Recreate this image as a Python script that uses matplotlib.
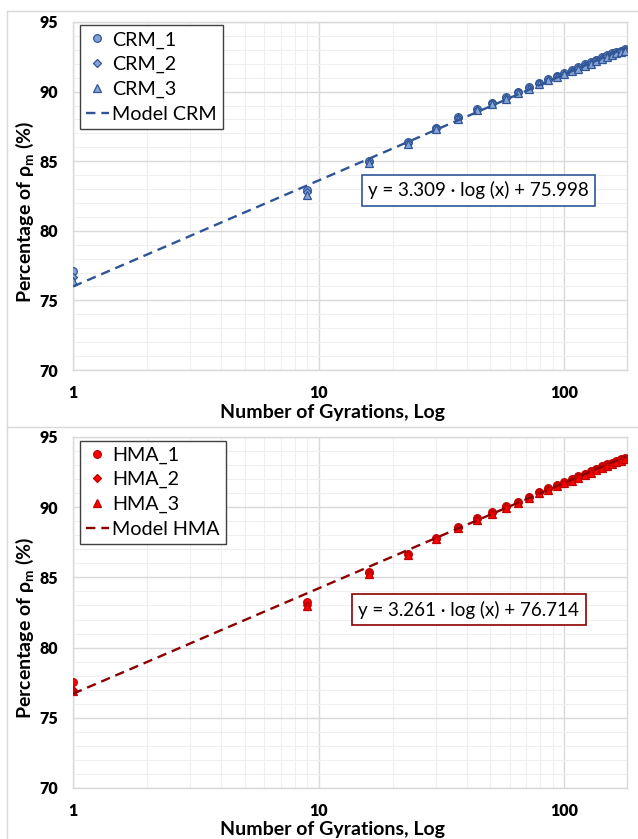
import numpy as np
import matplotlib
matplotlib.use('Agg')
import matplotlib.pyplot as plt
from matplotlib.ticker import FixedLocator, MultipleLocator
from matplotlib.lines import Line2D

plt.rcParams['font.family'] = ['Lato', 'DejaVu Sans']
plt.rcParams['mathtext.default'] = 'regular'

# Number of gyrations at which densities were recorded
gyrations = [1, 9, 16, 23, 30, 37, 44, 51, 58, 65, 72, 79, 86, 93, 100,
             107, 114, 121, 128, 135, 142, 149, 156, 163, 170, 177]

# Percentage of maximum density, CRM specimens
crm_1 = [77.1, 82.9, 85.0, 86.35, 87.4, 88.15, 88.75, 89.2, 89.6, 90.0, 90.3, 90.65, 90.9,
         91.15, 91.35, 91.55, 91.75, 91.95, 92.1, 92.3, 92.45, 92.6, 92.75, 92.85, 92.95, 93.05]
crm_2 = [76.7, 82.8, 84.95, 86.3, 87.35, 88.1, 88.7, 89.15, 89.55, 89.95, 90.25, 90.6, 90.85,
         91.1, 91.3, 91.5, 91.7, 91.9, 92.05, 92.25, 92.4, 92.55, 92.7, 92.8, 92.9, 93.0]
crm_3 = [76.4, 82.6, 84.9, 86.25, 87.3, 88.05, 88.65, 89.1, 89.5, 89.9, 90.2, 90.55, 90.8,
         91.05, 91.25, 91.45, 91.65, 91.85, 92.0, 92.2, 92.35, 92.5, 92.65, 92.75, 92.85, 92.95]

# Percentage of maximum density, HMA specimens
hma_1 = [77.55, 83.25, 85.4, 86.7, 87.8, 88.6, 89.2, 89.65, 90.05, 90.4, 90.75, 91.1, 91.35,
         91.6, 91.8, 92.0, 92.2, 92.4, 92.55, 92.75, 92.9, 93.05, 93.15, 93.3, 93.4, 93.5]
hma_2 = [77.0, 83.05, 85.3, 86.65, 87.75, 88.55, 89.15, 89.6, 90.0, 90.35, 90.7, 91.05, 91.3,
         91.55, 91.75, 91.95, 92.15, 92.35, 92.5, 92.7, 92.85, 93.0, 93.1, 93.25, 93.35, 93.45]
hma_3 = [76.9, 82.95, 85.25, 86.6, 87.7, 88.5, 89.1, 89.55, 89.95, 90.3, 90.65, 91.0, 91.25,
         91.5, 91.7, 91.9, 92.1, 92.3, 92.45, 92.65, 92.8, 92.95, 93.05, 93.2, 93.3, 93.4]

# Fitted model coefficients: y = a * log(x) + b
crm_model = (3.309, 75.998)
hma_model = (3.261, 76.714)

x_ticks = [1, 10, 100]
y_ticks = [70, 75, 80, 85, 90, 95]

W, H = 638, 839


def make_axes(fig, top_px, bottom_px):
    left, right = 73, 627
    return fig.add_axes([left / W, 1 - bottom_px / H, (right - left) / W, (bottom_px - top_px) / H])


def style_axes(ax, xlab_y, ylab_y):
    ax.set_xscale('log')
    ax.set_xlim(1, 180)
    ax.set_ylim(70, 95)
    ax.tick_params(which='both', length=0)
    ax.tick_params(axis='both', pad=11)
    ax.set_yticks(y_ticks)
    ax.yaxis.set_minor_locator(MultipleLocator(1))
    ax.set_xticks(x_ticks)
    ax.xaxis.set_minor_locator(FixedLocator([m * d for d in (1, 10, 100) for m in range(2, 10)]))
    ax.set_yticklabels([str(v) for v in y_ticks])
    ax.set_xticklabels([str(v) for v in x_ticks])
    ax.grid(True, which='major', color='#D9D9D9', linewidth=1.0)
    ax.grid(True, which='minor', color='#EFEFEF', linewidth=0.8)
    ax.set_axisbelow(True)
    for s in ax.spines.values():
        s.set_color('#D9D9D9')
        s.set_linewidth(1.0)
    ax.set_xlabel('Number of Gyrations, Log', fontsize=14, fontweight='bold')
    ax.set_ylabel('Percentage of ρ$_{m}$ (%)', fontsize=14, fontweight='bold')
    ax.xaxis.set_label_coords(0.469, xlab_y)
    ax.yaxis.set_label_coords(-0.067, ylab_y)


def bold_ticks(ax):
    for lab in ax.get_xticklabels(which='major') + ax.get_yticklabels(which='major'):
        lab.set_fontsize(11.5)
        lab.set_fontweight('heavy')


def draw_panel(ax, series, names, model, model_name, fill, edge, line_col, box_xy):
    markers = ['o', 'D', '^']
    sizes = [5.5, 4.0, 5.5]
    x = np.array(gyrations)
    for vals, name, m, ms in zip(series, names, markers, sizes):
        ax.plot(x, vals, linestyle='none', marker=m, markersize=ms, markerfacecolor=fill,
                markeredgecolor=edge, markeredgewidth=0.9, label=name, zorder=3)
    a, b = model
    ax.plot(x, a * np.log(x) + b, color=line_col, linewidth=1.7, dashes=(4, 2.5),
            label=model_name, zorder=4)
    leg = ax.legend(loc='upper left', bbox_to_anchor=(0.012, 0.99), fontsize=14.2,
                    fancybox=False, framealpha=1, edgecolor='#404040', borderpad=0.3,
                    labelspacing=0.38, handlelength=1.2, handletextpad=0.15, borderaxespad=0)
    leg.get_frame().set_linewidth(1.0)
    ax.text(box_xy[0], box_xy[1], 'y = {:.3f} · log (x) + {:.3f}'.format(a, b),
            transform=ax.transAxes, ha='center', va='center', fontsize=13.5,
            bbox=dict(boxstyle='square,pad=0.35', facecolor='white', edgecolor=line_col,
                      linewidth=1.2), zorder=5)


fig = plt.figure(figsize=(W / 100, H / 100), dpi=100)

# outer chart frames
frame_col = '#D9D9D9'
for xs, ys in [((7, W), (11, 11)), ((7, 7), (11, H)), ((7, W), (427, 427))]:
    fig.add_artist(Line2D([p / W for p in xs], [1 - p / H for p in ys],
                          color=frame_col, linewidth=1.0))

ax_top = make_axes(fig, 22, 370)
style_axes(ax_top, -0.098, 0.454)
draw_panel(ax_top, [crm_1, crm_2, crm_3], ['CRM_1', 'CRM_2', 'CRM_3'], crm_model, 'Model CRM',
           '#86A3D6', '#2F5597', '#2F5597', (0.732, 0.516))

ax_bot = make_axes(fig, 437, 788)
style_axes(ax_bot, -0.095, 0.457)
draw_panel(ax_bot, [hma_1, hma_2, hma_3], ['HMA_1', 'HMA_2', 'HMA_3'], hma_model, 'Model HMA',
           '#FF0000', '#C00000', '#8B0000', (0.714, 0.5085))

fig.canvas.draw()
bold_ticks(ax_top)
bold_ticks(ax_bot)

fig.savefig('out.png', dpi=100)
